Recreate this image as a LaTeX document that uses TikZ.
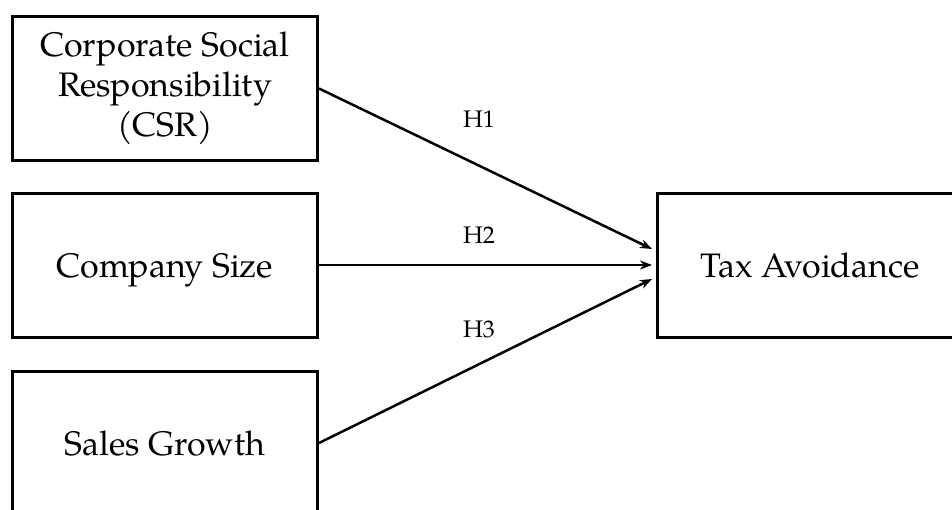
\documentclass[tikz,border=0pt]{standalone}
\usepackage{fontspec}
\setmainfont{texgyrepagella-regular.otf}
\usetikzlibrary{arrows.meta}
\begin{document}
\begin{tikzpicture}[x=1pt,y=-1pt,
  box/.style={draw,line width=3pt,minimum width=305pt,minimum height=144pt,align=center,font=\fontsize{34}{40}\selectfont,inner sep=0pt},
  onebox/.style={box,text height=25pt,text depth=0pt},
  conn/.style={line width=2.5pt,-{Stealth[length=12pt,width=9pt]}},
  hlab/.style={font=\fontsize{24}{28}\selectfont}]
\useasboundingbox (0,0) rectangle (952,509);
\clip (0,0) rectangle (952,509);
\fill[white] (0,0) rectangle (952,509);
\node[box] (csr) at (165,88.5) {Corporate Social\\Responsibility\\(CSR)};
\node[onebox] (size) at (165,265) {Company Size};
\node[onebox] (sales) at (165,443) {Sales Growth};
\node[onebox] (tax) at (810,265) {Tax Avoidance};
\coordinate (t1) at (652,249);
\coordinate (t2) at (652,265);
\coordinate (t3) at (652,279);
\draw[conn] (csr.east) -- (t1);
\draw[conn] (size.east) -- (t2);
\draw[conn] (sales.east) -- (t3);
\node[hlab] (h1) at (479,119) {H1};
\node[hlab] (h2) at (479,235) {H2};
\node[hlab] (h3) at (479,329) {H3};
\end{tikzpicture}
\end{document}
